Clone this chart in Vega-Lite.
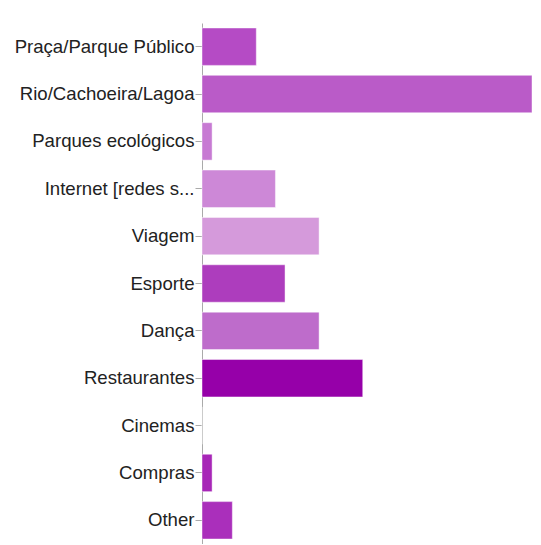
{
  "$schema": "https://vega.github.io/schema/vega-lite/v6.json",
  "autosize": {"type": "none"},
  "padding": {"left": 202, "top": 23, "right": 0, "bottom": 0},
  "width": 330,
  "height": 521,
  "background": "#ffffff",
  "config": {"view": {"stroke": null}},
  "data": {"values": [
    {"categoria": "Praça/Parque Público", "valor": 5.1},
    {"categoria": "Rio/Cachoeira/Lagoa", "valor": 31},
    {"categoria": "Parques ecológicos", "valor": 0.95},
    {"categoria": "Internet [redes s...", "valor": 6.9},
    {"categoria": "Viagem", "valor": 11},
    {"categoria": "Esporte", "valor": 7.8},
    {"categoria": "Dança", "valor": 11},
    {"categoria": "Restaurantes", "valor": 15.1},
    {"categoria": "Cinemas", "valor": 0},
    {"categoria": "Compras", "valor": 0.95},
    {"categoria": "Other", "valor": 2.85}
  ]},
  "mark": {"type": "bar", "stroke": "#ffffff", "strokeOpacity": 0.45, "strokeWidth": 1},
  "encoding": {
    "y": {
      "field": "categoria", "type": "nominal", "sort": null,
      "scale": {"paddingInner": 0.21, "paddingOuter": 0.105},
      "axis": {
        "title": null, "labelFont": "Liberation Sans", "labelFontSize": 18.6,
        "labelColor": "#222222", "labelPadding": 1, "tickSize": 7,
        "tickColor": "#aaaaaa", "domainColor": "#aaaaaa", "labelLimit": 250, "grid": false
      }
    },
    "x": {
      "field": "valor", "type": "quantitative",
      "scale": {"domain": [0, 31], "nice": false},
      "axis": null
    },
    "color": {
      "field": "categoria", "type": "nominal", "legend": null,
      "scale": {
        "domain": ["Praça/Parque Público", "Rio/Cachoeira/Lagoa", "Parques ecológicos", "Internet [redes s...", "Viagem", "Esporte", "Dança", "Restaurantes", "Cinemas", "Compras", "Other"],
        "range": ["#b54bc5", "#ba5bc8", "#c77ad3", "#cd88d7", "#d59adb", "#ad3dbd", "#be6ccb", "#9600a9", "#cccccc", "#a726b7", "#aa2fbb"]
      }
    }
  }
}
